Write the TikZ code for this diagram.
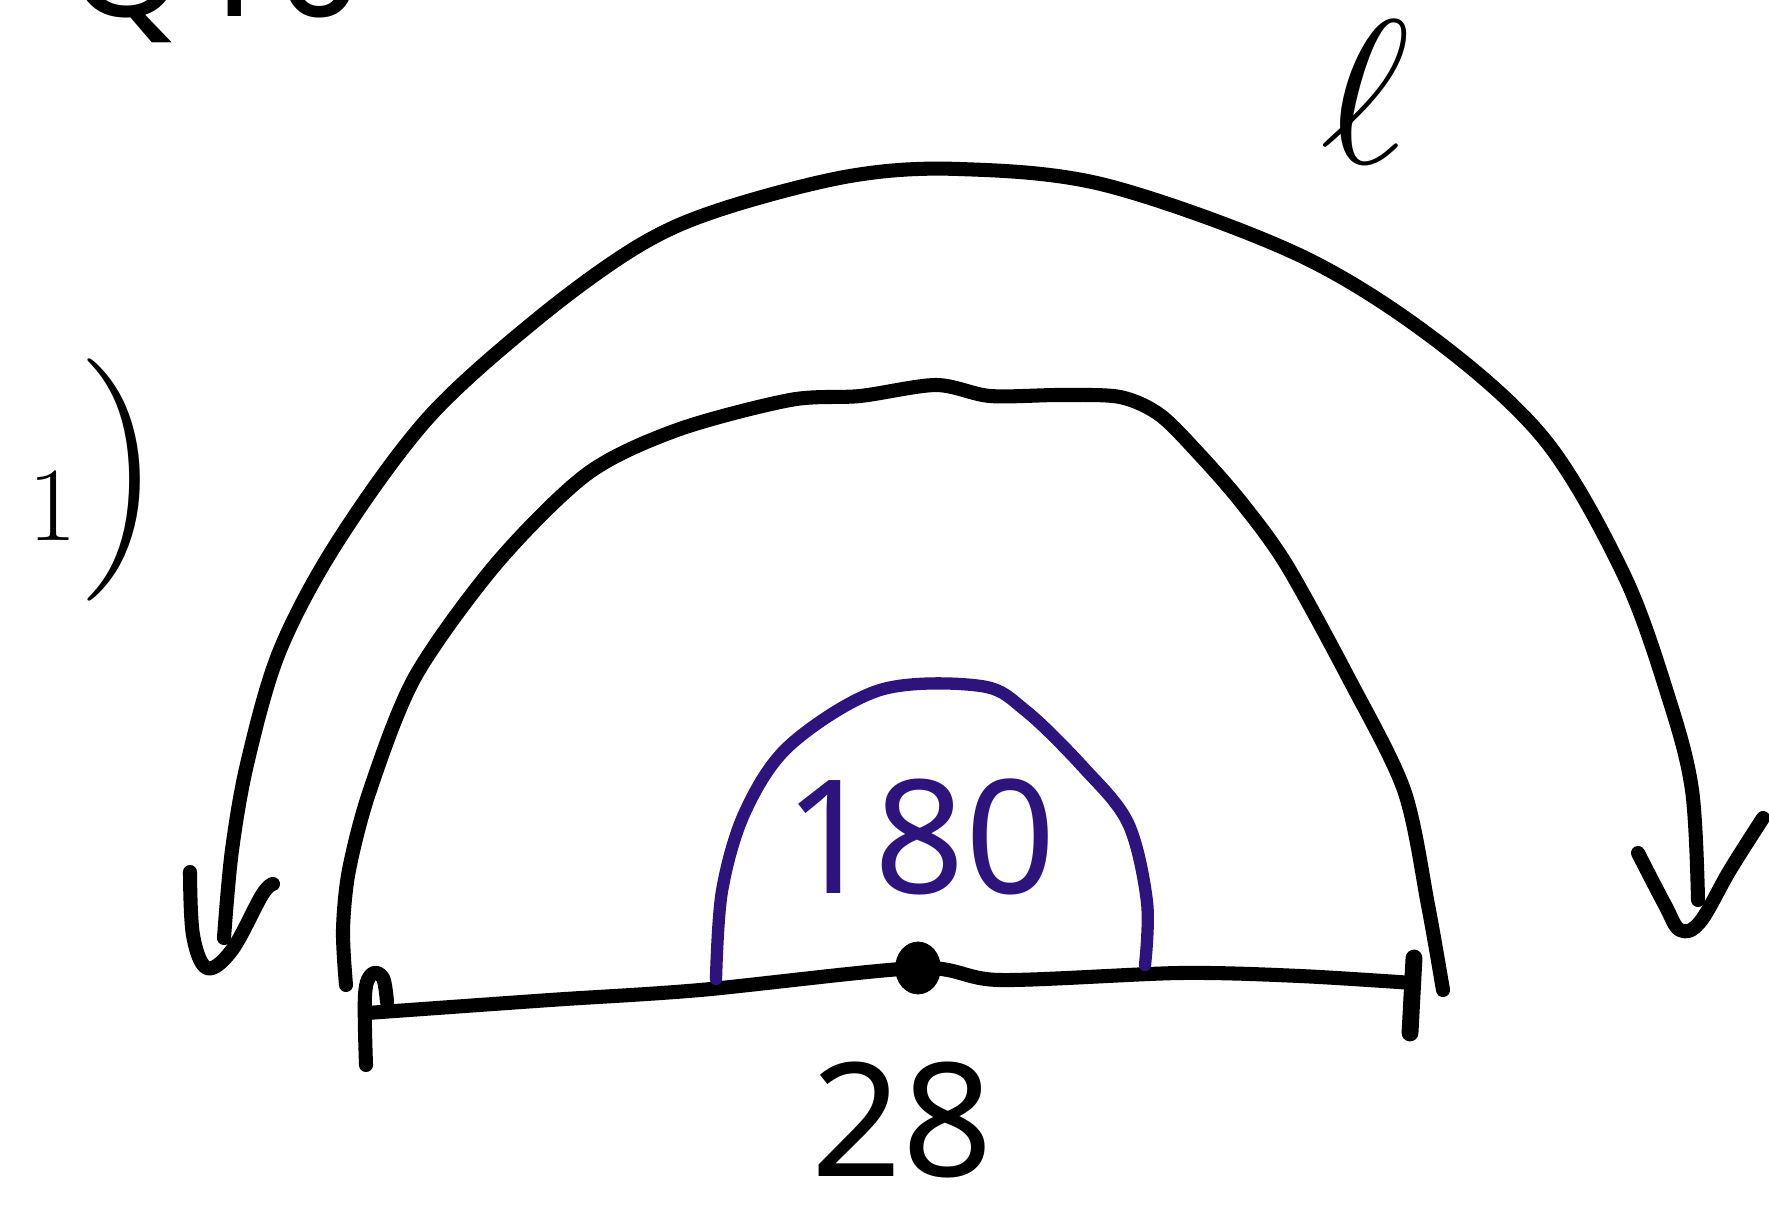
\documentclass[tikz,border=0pt]{standalone}
\usepackage{fontspec}
\usetikzlibrary{shapes.geometric}
\newfontfamily\hand{Noto Sans}
\begin{document}
\begin{tikzpicture}[x=0.01cm,y=-0.01cm,
  ink/.style={line width=4pt, line cap=round, line join=round},
  purpink/.style={line width=3.5pt, line cap=round, line join=round, draw=purp},
  lbl/.style={inner sep=0pt, outer sep=0pt}]
\definecolor{purp}{RGB}{45,20,125}
\useasboundingbox (0,0) rectangle (1769,1224);
\begin{scope}
\clip (0,0) rectangle (1769,1224);
\node[lbl, anchor=base west] (q10) at (66,17) {\hand\fontsize{44}{44}\selectfont Q10};
\end{scope}
% labels
\node[lbl, anchor=base west] (one) at (28,540) {\fontsize{30}{30}\selectfont 1\fontsize{69}{69}\selectfont)};
\node[lbl] (ell) at (1365,92) {\scalebox{2.5}[2.35]{\Huge$\ell$}};
\node[lbl, text=purp, anchor=base] (n180) at (920,893) {\hand\fontsize{45}{45}\selectfont 180};
\node[lbl, anchor=base] (n28) at (902,1176) {\hand\fontsize{45}{45}\selectfont 28};
\node[lbl, fill=black, ellipse, minimum width=13pt, minimum height=15pt] (dot) at (918,968) {};
% coordinates
\coordinate (oL) at (224,938);
\coordinate (oR) at (1698,900);
\coordinate (iL) at (346,985);
\coordinate (iR) at (1443,990);
\coordinate (bL) at (367,1013);
\coordinate (bR) at (1413,983);
\coordinate (pL) at (716,979);
\coordinate (pR) at (1145,965);
% outer arc
\draw[ink] plot[smooth, tension=0.55] coordinates {(oL) (232,850) (248,760) (280,650) (338,541) (429,417) (541,316) (640,245) (722,209) (850,176) (959,169) (1105,185) (1297,254) (1433,338) (1545,440) (1624,575) (1669,699) (1692,790) (oR)};
% arrowheads
\draw[ink] plot[smooth, tension=0.6] coordinates {(190,872) (193,935) (207,968) (232,950) (262,895) (273,884)};
\draw[ink] plot[smooth, tension=0.6] coordinates {(1638,853) (1665,905) (1680,930) (1700,922) (1730,870) (1763,818)};
% inner arc
\draw[ink] plot[smooth, tension=0.5] coordinates {(iL) (343,930) (349,870) (370,790) (415,677) (496,564) (587,474) (677,430) (790,400) (860,396) (936,385) (990,396) (1060,395) (1120,397) (1160,415) (1200,455) (1241,502) (1286,564) (1348,677) (1404,790) (1428,905) (iR)};
% base line
\draw[ink] plot[smooth, tension=0.5] coordinates {(bL) (550,1000) (700,990) (dot) (1000,980) (1180,973) (1300,976) (bR)};
\draw[ink] plot[smooth, tension=0.6] coordinates {(387,1002) (383,978) (372,974) (365,995) (366,1065)};
\draw[ink, line width=4.8pt] (1414,958) -- (1410,1033);
% purple arc
\draw[purpink] plot[smooth, tension=0.55] coordinates {(pL) (722,891) (745,812) (790,745) (880,690) (981,686) (1026,711) (1083,767) (1128,823) (1147,902) (pR)};
\end{tikzpicture}
\end{document}
